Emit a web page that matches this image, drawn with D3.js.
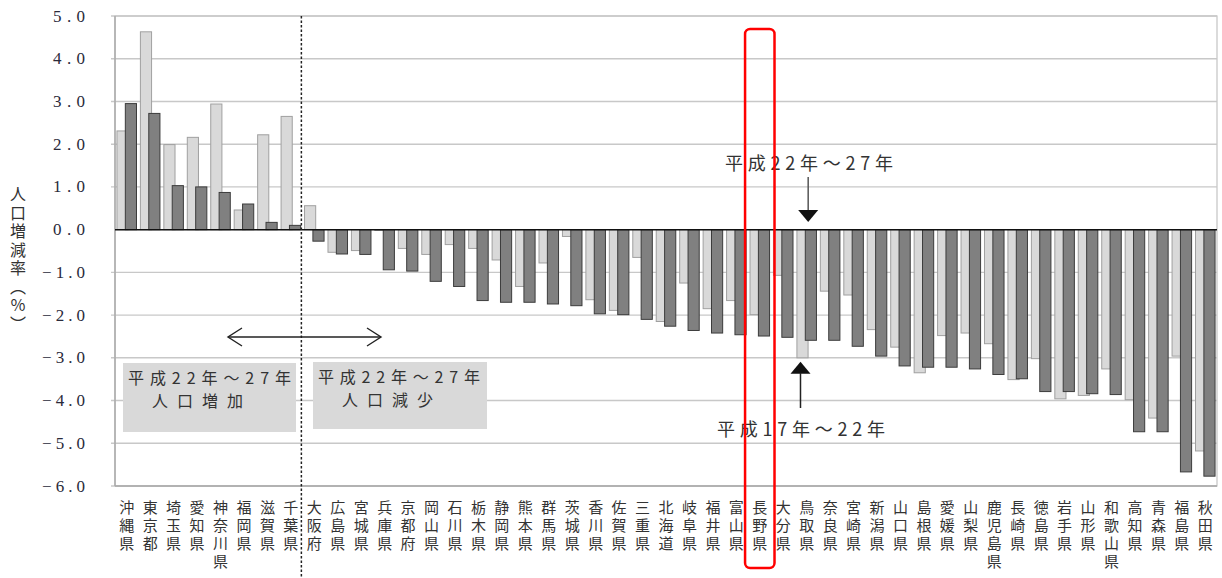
<!DOCTYPE html>
<html>
<head>
<meta charset="utf-8">
<script src="https://cdn.jsdelivr.net/npm/d3@7"></script>
<style>
  html, body { margin: 0; padding: 0; background: #fff; }
  svg { display: block; }
</style>
</head>
<body>
<svg id="chart" width="1222" height="578"></svg>
<script>
// 都道府県別人口増減率（平成17年～22年／平成22年～27年）
const prefectures = [
  "沖縄県","東京都","埼玉県","愛知県","神奈川県","福岡県","滋賀県","千葉県",
  "大阪府","広島県","宮城県","兵庫県","京都府","岡山県","石川県","栃木県",
  "静岡県","熊本県","群馬県","茨城県","香川県","佐賀県","三重県","北海道",
  "岐阜県","福井県","富山県","長野県","大分県","鳥取県","奈良県","宮崎県",
  "新潟県","山口県","島根県","愛媛県","山梨県","鹿児島県","長崎県","徳島県",
  "岩手県","山形県","和歌山県","高知県","青森県","福島県","秋田県"
];

// 平成17年～22年
const rateH17to22 = [
  2.31, 4.63, 1.99, 2.16, 2.94, 0.46, 2.22, 2.65,
  0.56, -0.53, -0.49, -0.02, -0.44, -0.58, -0.35, -0.44,
  -0.71, -1.33, -0.78, -0.16, -1.64, -1.89, -0.65, -2.15,
  -1.25, -1.85, -1.66, -1.99, -1.07, -3.00, -1.44, -1.53,
  -2.34, -2.75, -3.35, -2.48, -2.42, -2.67, -3.51, -3.02,
  -3.96, -3.88, -3.26, -3.98, -4.41, -2.96, -5.18
];

// 平成22年～27年
const rateH22to27 = [
  2.95, 2.72, 1.03, 1.00, 0.87, 0.60, 0.17, 0.10,
  -0.27, -0.57, -0.58, -0.94, -0.97, -1.21, -1.33, -1.66,
  -1.70, -1.70, -1.74, -1.78, -1.97, -1.99, -2.10, -2.26,
  -2.36, -2.42, -2.46, -2.49, -2.52, -2.59, -2.59, -2.73,
  -2.96, -3.19, -3.22, -3.22, -3.26, -3.39, -3.49, -3.79,
  -3.79, -3.84, -3.86, -4.73, -4.73, -5.67, -5.77
];

const yTicks = [5, 4, 3, 2, 1, 0, -1, -2, -3, -4, -5, -6];
const yTitle = "人口増減率（％）";
const periodLater = "平成22年～27年";
const periodEarlier = "平成17年～22年";
const growthLabel = "人口増加";
const declineLabel = "人口減少";
const highlighted = "長野県";
const tottori = "鳥取県";

const svg = d3.select("#chart");
const plot = { left: 115, right: 1217, top: 16, bottom: 486 };

const x = d3.scaleBand().domain(prefectures).range([plot.left, plot.right]).padding(0);
const y = d3.scaleLinear().domain([-6, 5]).range([plot.bottom, plot.top]);

const step = x.bandwidth();
const barW = step / 2.1;           // gap 35%, overlap 25%
const gap = barW * 0.35;
const overlap = barW * 0.25;
const lightX = d => x(d) + gap / 2;
const darkX = d => x(d) + gap / 2 + barW - overlap;

const sans = "'Noto Sans CJK JP', 'Noto Sans', sans-serif";
const serif = "'Liberation Serif', 'DejaVu Serif', serif";
const textColor = "#333";

// plot frame and gridlines
svg.append("rect")
  .attr("x", plot.left).attr("y", plot.top)
  .attr("width", plot.right - plot.left).attr("height", plot.bottom - plot.top)
  .attr("fill", "none").attr("stroke", "#c4c4c4").attr("stroke-width", 1.2);

svg.append("g").selectAll("line").data(yTicks.filter(t => t !== 0)).join("line")
  .attr("x1", plot.left - 4).attr("x2", plot.right)
  .attr("y1", d => y(d)).attr("y2", d => y(d))
  .attr("stroke", "#c8c8c8").attr("stroke-width", 1.4);

svg.append("line")
  .attr("x1", plot.left).attr("x2", plot.left)
  .attr("y1", plot.top).attr("y2", plot.bottom)
  .attr("stroke", "#a8a8a8").attr("stroke-width", 1.4);
svg.append("line")
  .attr("x1", plot.left).attr("x2", plot.right)
  .attr("y1", plot.bottom).attr("y2", plot.bottom)
  .attr("stroke", "#a8a8a8").attr("stroke-width", 1.4);

// y axis tick labels
const fmt = d3.format(".1f");
svg.append("g").selectAll("text").data(yTicks).join("text")
  .attr("x", 85).attr("y", d => y(d))
  .attr("text-anchor", "end").attr("dominant-baseline", "central")
  .attr("font-family", serif).attr("font-size", 17)
  .attr("fill", "#2a2a3a")
  .attr("textLength", d => d < 0 ? 43 : 32)
  .attr("lengthAdjust", "spacing")
  .text(d => fmt(d));

// y axis title (vertical)
svg.append("text")
  .attr("x", 18).attr("y", 186)
  .attr("font-family", sans).attr("font-size", 16)
  .attr("fill", textColor)
  .style("writing-mode", "vertical-rl")
  .style("letter-spacing", "2.5px")
  .text(yTitle);

// bars
const rows = prefectures.map((p, i) => ({ p, a: rateH17to22[i], b: rateH22to27[i] }));

svg.append("g").selectAll("rect").data(rows).join("rect")
  .attr("x", d => lightX(d.p))
  .attr("y", d => y(Math.max(0, d.a)))
  .attr("width", barW)
  .attr("height", d => Math.abs(y(d.a) - y(0)))
  .attr("fill", "#d9d9d9").attr("stroke", "#a0a0a0").attr("stroke-width", 1);

svg.append("g").selectAll("rect").data(rows).join("rect")
  .attr("x", d => darkX(d.p))
  .attr("y", d => y(Math.max(0, d.b)))
  .attr("width", barW)
  .attr("height", d => Math.abs(y(d.b) - y(0)))
  .attr("fill", "#808080").attr("stroke", "#3c3c3c").attr("stroke-width", 1);

// zero line
svg.append("line")
  .attr("x1", plot.left).attr("x2", plot.right)
  .attr("y1", y(0)).attr("y2", y(0))
  .attr("stroke", "#111").attr("stroke-width", 1.5);

// category labels: one character per row, each set upright in vertical mode
const labelChars = prefectures.flatMap(p =>
  Array.from(p).map((ch, k) => ({ p, ch, k })));
svg.append("g")
  .attr("font-family", sans).attr("font-size", 15).attr("fill", textColor)
  .selectAll("text").data(labelChars).join("text")
  .attr("x", d => x(d.p) + step / 2)
  .attr("y", d => 499.5 + d.k * 18)
  .style("writing-mode", "vertical-rl")
  .text(d => d.ch);

// dashed divider between growth and decline groups
const divX = x(prefectures[8]) - 1.2;
svg.append("line")
  .attr("x1", divX).attr("x2", divX)
  .attr("y1", plot.top).attr("y2", 578)
  .attr("stroke", "#222").attr("stroke-width", 1.5)
  .attr("stroke-dasharray", "2.5,2");

// double-headed arrow across the divider
const arrowY = 337;
const ax1 = 228, ax2 = 381;
const arrow = svg.append("g").attr("stroke", "#222").attr("stroke-width", 1.4).attr("fill", "none");
arrow.append("line").attr("x1", ax1).attr("x2", ax2).attr("y1", arrowY).attr("y2", arrowY);
arrow.append("path").attr("d", `M${ax1 + 14},${arrowY - 9} L${ax1},${arrowY} L${ax1 + 14},${arrowY + 9}`);
arrow.append("path").attr("d", `M${ax2 - 14},${arrowY - 9} L${ax2},${arrowY} L${ax2 - 14},${arrowY + 9}`);

// grey note boxes
function noteBox(bx, by, bw, bh, line1, line2, l1x, l1w, l2x, l2w) {
  const g = svg.append("g");
  g.append("rect").attr("x", bx).attr("y", by).attr("width", bw).attr("height", bh)
    .attr("fill", "#d9d9d9");
  g.append("text").attr("x", l1x).attr("y", by + 14)
    .attr("dominant-baseline", "central")
    .attr("font-family", sans).attr("font-size", 16).attr("fill", textColor)
    .attr("textLength", l1w).attr("lengthAdjust", "spacing")
    .text(line1);
  g.append("text").attr("x", l2x).attr("y", by + 37)
    .attr("dominant-baseline", "central")
    .attr("font-family", sans).attr("font-size", 16).attr("fill", textColor)
    .attr("textLength", l2w).attr("lengthAdjust", "spacing")
    .text(line2);
}
noteBox(123, 363, 173, 69, periodLater, growthLabel, 128, 163, 152, 91);
noteBox(313, 362, 174, 67, periodLater, declineLabel, 318, 162, 342, 91);

// pointer to the later period bar (鳥取県)
const topArrowX = x(tottori) + step / 2 + 1.5;
svg.append("text").attr("x", 725).attr("y", 162)
  .attr("dominant-baseline", "central")
  .attr("font-family", sans).attr("font-size", 18).attr("fill", textColor)
  .attr("textLength", 168).attr("lengthAdjust", "spacing")
  .text(periodLater);
svg.append("line").attr("x1", topArrowX).attr("x2", topArrowX)
  .attr("y1", 177).attr("y2", 211)
  .attr("stroke", "#555").attr("stroke-width", 1.5);
svg.append("path")
  .attr("d", `M${topArrowX - 10},210 L${topArrowX + 10},210 L${topArrowX},222 Z`)
  .attr("fill", "#111");

// pointer to the earlier period bar (鳥取県)
const botArrowX = lightX(tottori) + barW / 2 - 2;
const botTip = y(rateH17to22[prefectures.indexOf(tottori)]) + 4;
svg.append("path")
  .attr("d", `M${botArrowX - 10},${botTip + 12} L${botArrowX + 10},${botTip + 12} L${botArrowX},${botTip} Z`)
  .attr("fill", "#111");
svg.append("line").attr("x1", botArrowX).attr("x2", botArrowX)
  .attr("y1", botTip + 11).attr("y2", 408)
  .attr("stroke", "#222").attr("stroke-width", 1.5);
svg.append("text").attr("x", 717).attr("y", 428)
  .attr("dominant-baseline", "central")
  .attr("font-family", sans).attr("font-size", 18).attr("fill", textColor)
  .attr("textLength", 168).attr("lengthAdjust", "spacing")
  .text(periodEarlier);

// red highlight around 長野県
svg.append("rect")
  .attr("x", x(highlighted) - 3).attr("y", 29)
  .attr("width", step + 6).attr("height", 568 - 29)
  .attr("rx", 5).attr("ry", 5)
  .attr("fill", "none").attr("stroke", "#ff0000").attr("stroke-width", 2.5);
</script>
</body>
</html>
